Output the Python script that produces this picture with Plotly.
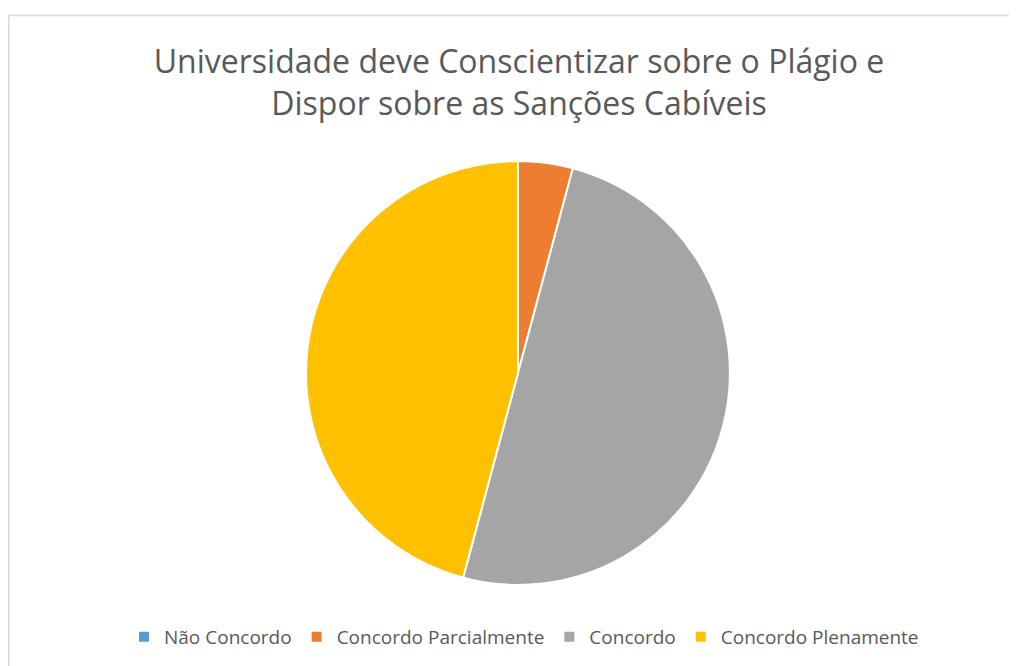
import plotly.graph_objects as go

# page has an 8px body margin, so the figure is a bit smaller than the window
W, H = 1009, 658
OFF = 8

labels = ["Não Concordo", "Concordo Parcialmente", "Concordo", "Concordo Plenamente"]
values = [0, 1, 12, 11]
colors = ["#5B9BD5", "#ED7D31", "#A5A5A5", "#FFC000"]

title = "Universidade deve Conscientizar sobre o Plágio e<br>Dispor sobre as Sanções Cabíveis"


def px_x(x):
    return (x - OFF) / W


def px_y(y):
    return 1 - (y - OFF) / H


# pie centre / radius in page pixels
cx, cy, r = 518, 373, 212

fig = go.Figure(go.Pie(
    labels=labels,
    values=values,
    marker=dict(colors=colors, line=dict(color="white", width=2)),
    sort=False,
    direction="clockwise",
    rotation=0,
    textinfo="none",
    domain=dict(x=[px_x(cx - r), px_x(cx + r)], y=[px_y(cy + r), px_y(cy - r)]),
))

fig.update_layout(
    width=W, height=H,
    margin=dict(l=0, r=0, t=0, b=0),
    paper_bgcolor="white",
    font=dict(family="Open Sans", color="#595959"),
    title=dict(text=title, x=px_x(519), xanchor="center", y=px_y(73), yanchor="middle",
               font=dict(size=32, color="#595959", family="Open Sans")),
    legend=dict(orientation="h", x=px_x(524), xanchor="center", y=px_y(637), yanchor="middle",
                font=dict(size=19, color="#595959"), traceorder="normal"),
    shapes=[dict(type="rect", xref="paper", yref="paper",
                 x0=px_x(8.8), x1=1.02, y0=-0.02, y1=px_y(15.5),
                 line=dict(color="#D9D9D9", width=1.5))],
)

fig.write_html("out.html")
